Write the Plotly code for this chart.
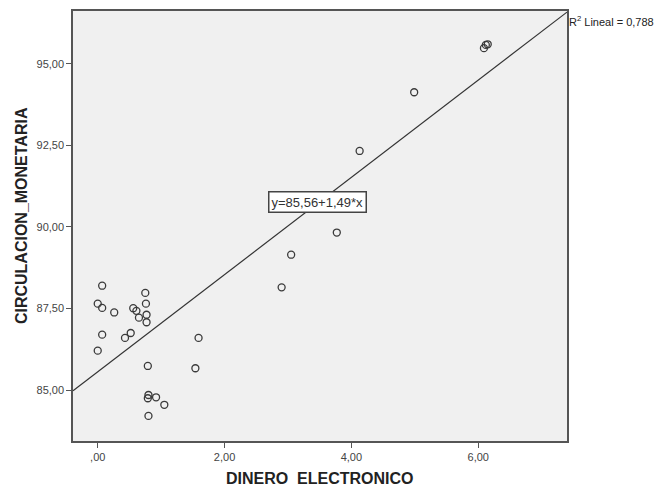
import plotly.graph_objects as go

dinero = [0.07, 0.00, 0.07, 0.26, 0.56, 0.61, 0.65, 0.75, 0.76, 0.77, 0.77,
          0.07, 0.52, 0.43, 0.00, 0.79, 1.59, 1.54, 0.80, 0.79, 0.92, 1.05,
          0.80, 2.90, 3.05, 3.77, 4.13, 4.99, 6.12, 6.15, 6.09]
circulacion = [88.20, 87.65, 87.52, 87.38, 87.51, 87.43, 87.22, 87.98, 87.65, 87.31, 87.08,
               86.70, 86.75, 86.60, 86.21, 85.74, 86.60, 85.67, 84.85, 84.75, 84.78, 84.55,
               84.21, 88.15, 89.15, 89.83, 92.33, 94.13, 95.58, 95.60, 95.48]

intercept = 85.56
slope = 1.49
r2_text = "R<sup>2</sup> Lineal = 0,788"
eq_text = "y=85,56+1,49*x"
x_title = "DINERO\u00a0\u00a0ELECTRONICO"
y_title = "CIRCULACION_MONETARIA"

x_range = [-0.39, 7.40]
y_range = [83.44, 96.62]
x_ticks = [0, 2, 4, 6]
x_ticklabels = [",00", "2,00", "4,00", "6,00"]
y_ticks = [85, 87.5, 90, 92.5, 95]
y_ticklabels = ["85,00", "87,50", "90,00", "92,50", "95,00"]

line_x = x_range
line_y = [intercept + slope * v for v in line_x]

fig = go.Figure()
fig.add_trace(go.Scatter(x=line_x, y=line_y, mode="lines",
                         line=dict(color="#333333", width=1.2), hoverinfo="skip"))
fig.add_trace(go.Scatter(x=dinero, y=circulacion, mode="markers",
                         marker=dict(symbol="circle-open", size=7,
                                     color="#3a3a3a", line=dict(width=1.3, color="#3a3a3a"))))

font_family = "Liberation Sans, Arial, sans-serif"

fig.update_layout(
    width=655, height=488, autosize=False,
    margin=dict(l=73, r=88, t=11, b=47),
    paper_bgcolor="white", plot_bgcolor="#f0f0f0",
    showlegend=False,
    font=dict(family=font_family, color="#444444", size=11),
    xaxis=dict(range=x_range, tickvals=x_ticks, ticktext=x_ticklabels,
               showgrid=False, zeroline=False, showline=True, mirror=True, automargin=False,
               linecolor="#555555", linewidth=1.5, ticks="outside", ticklen=5,
               tickcolor="#555555", tickfont=dict(size=11, color="#444444")),
    yaxis=dict(range=y_range, tickvals=y_ticks, ticktext=y_ticklabels,
               showgrid=False, zeroline=False, showline=True, mirror=True, automargin=False,
               linecolor="#555555", linewidth=1.5, ticks="outside", ticklen=5,
               tickcolor="#555555", tickfont=dict(size=11, color="#444444")),
)

fig.add_annotation(x=0.5, y=0, xref="paper", yref="paper", xanchor="center", yanchor="middle",
                   yshift=-37, borderpad=0, text="<b>" + x_title + "</b>", showarrow=False,
                   font=dict(size=16, color="#222222", family=font_family))
fig.add_annotation(x=0, y=0.523, xref="paper", yref="paper", xanchor="center", yanchor="middle",
                   xshift=-52, text="<b>" + y_title + "</b>", textangle=-90, showarrow=False,
                   font=dict(size=16, color="#222222", family=font_family))
fig.add_annotation(x=3.47, y=90.77, text=eq_text, showarrow=False,
                   xref="x", yref="y", bgcolor="white", bordercolor="#444444", borderwidth=1.5,
                   borderpad=2, font=dict(size=13, color="#333333", family=font_family))
fig.add_annotation(x=1.0, y=1.0, xref="paper", yref="paper", xanchor="left", yanchor="top",
                   xshift=0, yshift=-1, text=r2_text, showarrow=False,
                   font=dict(size=11, color="#222222", family=font_family))

fig.write_html("out.html", config={"displayModeBar": False},
               post_script="document.body.style.margin='0';")
